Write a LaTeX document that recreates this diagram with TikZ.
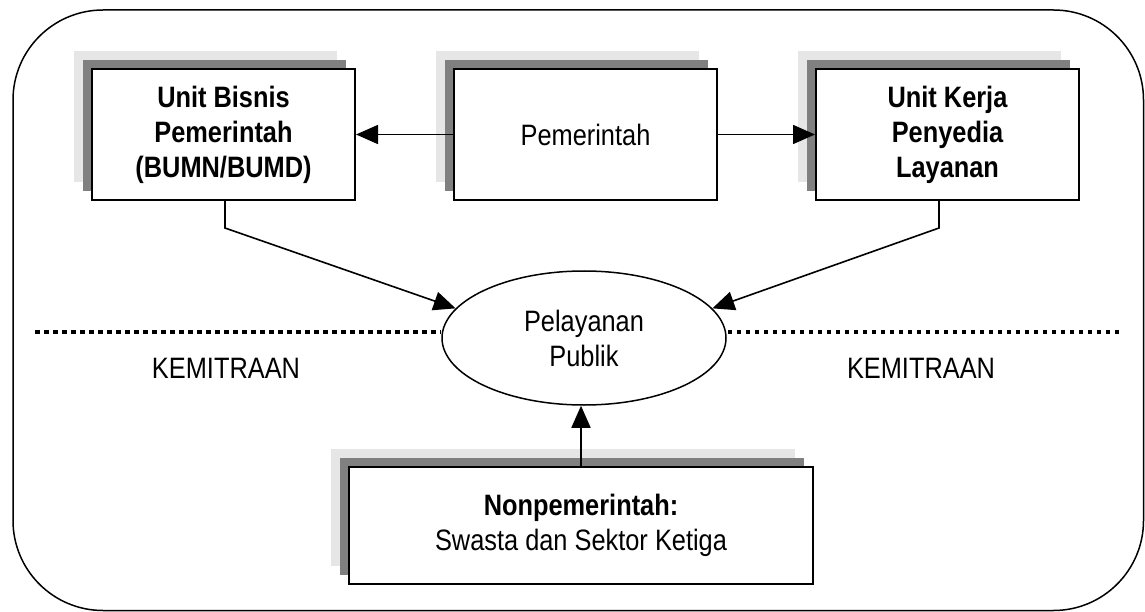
\documentclass[tikz,border=0pt]{standalone}
\usepackage{fontspec}
\setmainfont{Liberation Sans}[FakeStretch=0.86]
\usetikzlibrary{arrows.meta,shapes.geometric,shadows,calc}
\definecolor{shadelight}{HTML}{E6E6E6}
\definecolor{shadedark}{HTML}{808080}
\begin{document}
\begin{tikzpicture}[x=1pt,y=-1pt,
  font=\fontsize{29.5}{35}\selectfont,
  box/.style={draw=black, line width=2pt, fill=white, inner sep=0pt,
    align=center, minimum width=263pt, minimum height=131pt,
    general shadow={fill=shadelight, draw=none, shadow xshift=-18pt, shadow yshift=18pt},
    general shadow={fill=shadedark, draw=none, shadow xshift=-9pt, shadow yshift=9pt}},
  conn/.style={line width=1.6pt, -{Triangle[length=22pt,width=19pt]}},
  dots/.style={line width=4pt, dash pattern=on 4.5pt off 4.5pt},
  lab/.style={inner sep=0pt}]
\useasboundingbox (0,0) rectangle (1145,612);
\draw[line width=1.5pt, rounded corners=90pt] (13,10) rectangle (1143.5,610.5);
\node[box] (b1) at (223.5,134.5) {\bfseries Unit Bisnis\\\bfseries Pemerintah\\\bfseries (BUMN/BUMD)};
\node[box] (b2) at (585.5,134.5) {Pemerintah};
\node[box] (b3) at (947.5,134.5) {\bfseries Unit Kerja\\\bfseries Penyedia\\\bfseries Layanan};
\node[box, minimum width=464pt, minimum height=117pt] (b4) at (581,525.5) {\bfseries Nonpemerintah:\\Swasta dan Sektor Ketiga};
\node[ellipse, draw=black, line width=1.5pt, fill=white, inner sep=0pt,
  minimum width=284pt, minimum height=134pt, align=center] (ell) at (584,338) {Pelayanan\\Publik};
\coordinate (dl) at (35,332);
\coordinate (dr) at (1119,332);
\draw[dots] (dl) -- (dl -| ell.west);
\draw[dots] (dr) -- (dr -| ell.east);
\node[lab] (k1) at (226,368) {KEMITRAAN};
\node[lab] (k2) at (921,368) {KEMITRAAN};
\draw[conn] (b2.west) -- (b1.east);
\draw[conn] (b2.east) -- (b3.west);
\draw[conn] ($(b1.south)+(1.5,0)$) -- ++(0,27) -- (ell.167);
\draw[conn] ($(b3.south)+(-8.5,0)$) -- ++(0,27) -- (ell.13);
\draw[conn] (b4.north) -- (b4.north |- ell.south);
\end{tikzpicture}
\end{document}
